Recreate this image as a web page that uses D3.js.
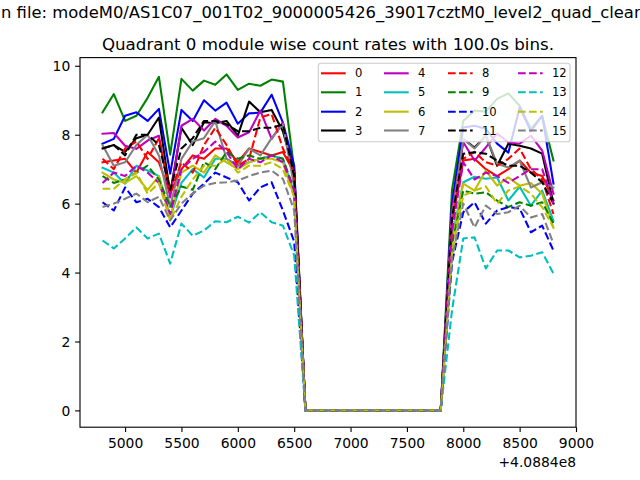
<!DOCTYPE html>
<html><head><meta charset="utf-8">
<script src="https://cdn.jsdelivr.net/npm/d3@7/dist/d3.min.js"></script>
<style>body{margin:0;background:#fff;} svg{display:block;font-family:"DejaVu Sans",sans-serif;}</style>
</head><body>
<svg id="c" width="640" height="480"></svg>
<script>
// ---- data ----
const suptitleText = "Lightcurve in file: modeM0/AS1C07_001T02_9000005426_39017cztM0_level2_quad_clean.evt";
const titleText = "Quadrant 0 module wise count rates with 100.0s bins.";
const xOffsetLabel = "+4.0884e8";
const times = [4800,4900,5000,5100,5200,5300,5400,5500,5600,5700,5800,5900,6000,6100,6200,6300,6400,6500,
  6600,6700,6800,6900,7000,7100,7200,7300,7400,7500,7600,7700,7800,
  7900,8000,8100,8200,8300,8400,8500,8600,8700,8800];
const xTicks = [5000,5500,6000,6500,7000,7500,8000,8500,9000];
const yTicks = [0,2,4,6,8,10];
const moduleLabels = ["0","1","2","3","4","5","6","7","8","9","10","11","12","13","14","15"];
const Z = [0,0,0,0,0,0,0,0,0,0,0,0,0];
const m0  = [7.2,7.25,7.3,6.9,7.5,7.2,6.3,7.0,7.4,7.3,7.6,7.6,7.2,7.6,7.5,7.4,7.5,6.9, ...Z, 5.5,7.25,7.3,7.0,6.8,7.0,7.25,6.9,6.8,6.1];
const m1  = [8.65,9.18,8.4,8.55,9.07,9.68,7.42,9.62,9.28,9.57,9.45,9.75,9.3,9.48,9.42,9.6,9.54,7.0, ...Z, 6.4,8.4,8.7,8.67,9.04,9.2,8.84,8.17,8.55,7.25];
const m2  = [7.74,7.88,8.55,8.65,8.4,8.75,6.87,8.72,8.4,9.0,8.7,8.93,8.32,8.62,8.64,9.16,8.35,7.1, ...Z, 6.0,8.21,8.26,8.17,7.74,7.48,8.79,8.1,8.55,6.58];
const m3  = [7.6,7.7,7.5,7.9,8.0,8.5,6.3,8.2,7.7,8.36,8.33,8.4,7.97,8.96,8.65,8.72,8.1,6.9, ...Z, 5.6,7.88,7.63,7.97,7.1,7.74,7.68,7.6,7.45,6.0];
const m4  = [8.03,8.05,7.68,7.59,7.83,7.97,6.18,8.26,8.46,8.12,8.46,8.26,7.92,8.07,8.7,7.88,8.36,6.6, ...Z, 5.8,7.78,7.25,7.63,8.03,7.78,7.74,7.97,7.54,6.29];
const m5  = [7.04,6.9,6.58,7.1,6.96,6.8,5.6,6.6,7.0,6.76,7.3,7.3,7.1,7.2,7.3,7.4,7.3,6.3, ...Z, 5.0,6.62,6.78,6.72,6.76,6.09,6.49,5.94,6.38,5.5];
const m6  = [6.9,6.7,6.6,6.8,6.4,6.8,5.6,6.9,7.1,6.9,7.4,7.2,7.0,7.2,7.3,7.3,7.2,6.2, ...Z, 4.9,6.58,6.38,6.96,6.52,6.76,6.52,6.6,6.29,5.3];
const m7  = [7.7,7.1,7.2,7.7,8.0,7.4,5.9,7.3,7.8,7.9,8.4,7.3,7.1,7.6,7.4,7.9,8.3,6.5, ...Z, 5.6,7.88,7.6,7.97,7.16,7.05,7.25,6.47,6.62,6.47];
const m8  = [7.3,7.0,7.6,7.8,7.3,7.9,6.3,7.2,6.9,7.7,8.2,7.7,7.1,7.3,8.5,8.6,7.6,6.9, ...Z, 5.4,7.3,7.5,7.2,7.1,7.3,7.6,7.0,6.7,5.7];
const m9  = [6.8,6.6,6.7,6.9,7.1,6.7,5.9,6.5,6.4,7.2,7.0,7.5,7.3,7.4,7.3,7.4,7.3,6.4, ...Z, 4.8,6.38,6.29,6.33,6.09,5.9,6.04,5.94,6.04,5.42];
const m10 = [6.04,5.8,6.47,6.04,6.14,5.9,5.31,5.8,6.29,6.58,6.9,6.76,6.62,6.09,6.47,6.62,5.8,4.9, ...Z, 4.3,5.75,6.04,5.42,5.8,5.9,5.86,5.17,5.36,4.64];
const m11 = [7.6,7.7,7.4,8.0,8.0,7.7,6.4,7.6,7.9,8.4,8.4,8.3,8.1,8.1,8.2,8.2,8.3,6.8, ...Z, 5.6,7.45,7.49,7.45,7.25,7.1,7.1,6.9,6.62,6.0];
const m12 = [6.6,6.9,6.8,7.1,6.9,6.6,5.7,7.0,7.3,7.5,7.8,7.5,7.0,7.3,7.2,7.4,7.2,6.4, ...Z, 5.2,7.2,6.7,6.9,6.8,6.6,6.8,7.0,7.0,6.0];
const m13 = [4.93,4.7,4.99,5.31,4.99,5.13,4.26,5.42,5.07,5.22,5.49,5.46,5.62,5.45,5.75,5.46,5.36,4.5, ...Z, 2.9,4.99,5.02,4.12,4.64,4.64,4.44,4.49,4.59,3.97];
const m14 = [6.43,6.43,6.7,6.9,6.29,6.6,5.5,6.2,6.7,7.1,7.1,7.3,6.9,7.1,7.1,7.2,7.0,6.2, ...Z, 4.6,6.23,6.38,6.5,6.0,6.38,6.5,6.29,5.9,5.31];
const m15 = [5.9,6.0,6.14,6.29,6.04,6.2,5.51,6.0,6.3,6.52,6.6,6.62,6.67,6.8,6.9,6.96,6.72,5.8, ...Z, 4.4,6.0,5.31,5.94,5.7,5.75,5.94,5.6,5.7,4.84];
const seriesValues = [m0,m1,m2,m3,m4,m5,m6,m7,m8,m9,m10,m11,m12,m13,m14,m15];

// ---- styles ----
const colors = ["#ff0000","#008000","#0000ff","#000000","#bf00bf","#00bfbf","#bfbf00","#808080"];
const LW = 2.08, DASH = "7.7,3.33";
const L = 80, R = 576, T = 57.6, B = 427.2;

const svg = d3.select("#c");

const xmin = d3.min(times), xmax = d3.max(times);
const xm = (xmax - xmin) * 0.05;
const allV = seriesValues.flat();
const ymin = d3.min(allV), ymax = d3.max(allV);
const ym = (ymax - ymin) * 0.05;
const x = d3.scaleLinear().domain([xmin - xm, xmax + xm]).range([L, R]);
const y = d3.scaleLinear().domain([ymin - ym, ymax + ym]).range([B, T]);

// lines
const line = d3.line().x(d => x(d[0])).y(d => y(d[1]));
const g = svg.append("g");
seriesValues.forEach((vals, i) => {
  const pts = times.map((t, k) => [t, vals[k]]);
  g.append("path").attr("d", line(pts))
    .attr("fill", "none")
    .attr("stroke", colors[i % 8])
    .attr("stroke-width", LW)
    .attr("stroke-linejoin", "round")
    .attr("stroke-linecap", i >= 8 ? "butt" : "square")
    .attr("stroke-dasharray", i >= 8 ? DASH : null);
});

// axes
const xAxis = d3.axisBottom(x).tickValues(xTicks).tickSize(4.86).tickPadding(4.9).tickFormat(d3.format("d"));
const yAxis = d3.axisLeft(y).tickValues(yTicks).tickSize(4.86).tickPadding(4.9).tickFormat(d3.format("d"));
const gx = svg.append("g").attr("transform", `translate(0,${B})`).call(xAxis);
const gy = svg.append("g").attr("transform", `translate(${L},0)`).call(yAxis);
[gx, gy].forEach(a => {
  a.select(".domain").remove();
  a.selectAll("line").attr("stroke", "#000").attr("stroke-width", 1.11);
  a.selectAll("text").attr("font-family", "DejaVu Sans").attr("font-size", "13.89px").attr("fill", "#000");
});
gy.selectAll("text").attr("dy", "0.36em");
gx.selectAll("text").attr("dy", "0.76em");

svg.append("rect").attr("x", L).attr("y", T).attr("width", R - L).attr("height", B - T)
  .attr("fill", "none").attr("stroke", "#000").attr("stroke-width", 1.11);

svg.append("text").attr("x", R).attr("y", 467).attr("text-anchor", "end")
  .attr("font-size", "13.89px").text(xOffsetLabel);

// titles
svg.append("text").attr("x", (L + R) / 2).attr("y", 50).attr("text-anchor", "middle")
  .attr("font-size", "16.67px").text(titleText);
const STF = "16.4px";
const st = svg.append("text").attr("y", 18).attr("font-size", STF).text(suptitleText);
// the long file-name title is clipped on both sides in the reference
const tmp = svg.append("text").attr("font-size", STF).text("Lightcurve i");
const pre = tmp.node().getComputedTextLength();
tmp.remove();
st.attr("x", -pre + 1);

// legend (drawn on top, semi-transparent like matplotlib)
const lg = svg.append("g");
lg.append("rect").attr("x", 318.3).attr("y", 63.3).attr("width", 251.7).attr("height", 78.4)
  .attr("rx", 2.8).attr("fill", "#fff").attr("fill-opacity", 0.8)
  .attr("stroke", "#cccccc").attr("stroke-width", 1.11);
const colX = [321, 384, 448, 518];
const rowY = [73.3, 92.3, 111.7, 130.5];
moduleLabels.forEach((lab, i) => {
  const c = Math.floor(i / 4), r = i % 4;
  const x0 = colX[c], yy = rowY[r];
  lg.append("line").attr("x1", x0).attr("x2", x0 + 24.7).attr("y1", yy).attr("y2", yy)
    .attr("stroke", colors[i % 8]).attr("stroke-width", LW)
    .attr("stroke-dasharray", i >= 8 ? DASH : null);
  lg.append("text").attr("x", x0 + 24.7 + 9.3).attr("y", yy).attr("dy", "0.36em")
    .attr("font-size", "11.57px").text(lab);
});
</script>
</body></html>
